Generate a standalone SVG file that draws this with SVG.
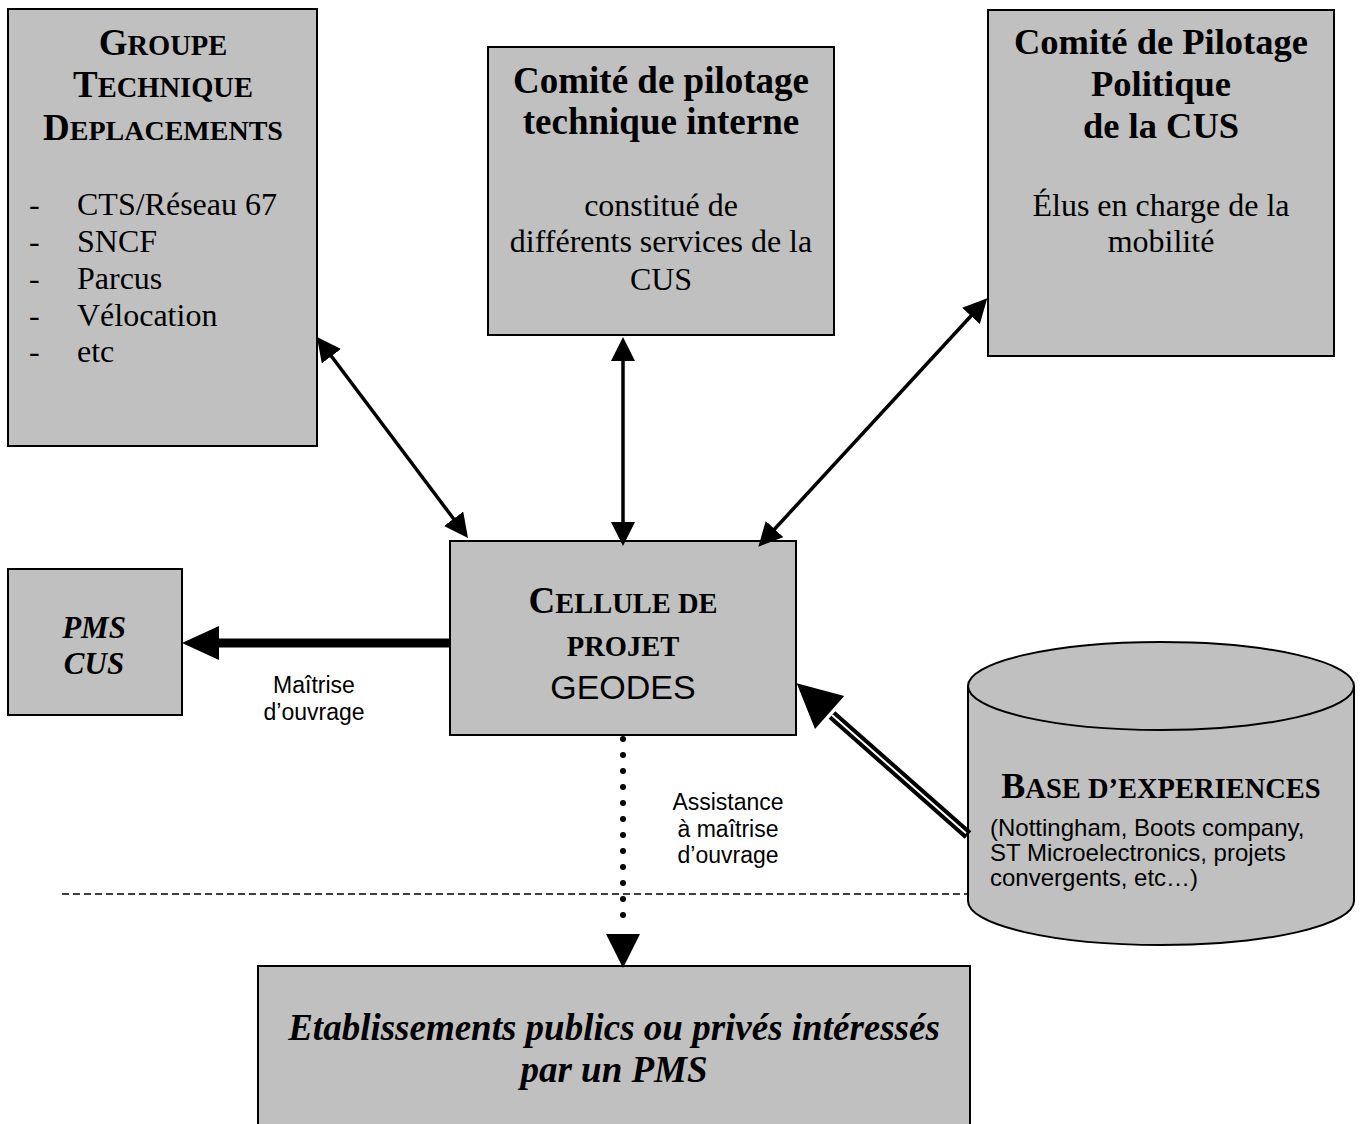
<svg xmlns="http://www.w3.org/2000/svg" width="1361" height="1124" viewBox="0 0 1361 1124">
<style>
.box{fill:#c0c0c0;stroke:#000;stroke-width:2}
.t{font-family:"Liberation Serif","Times New Roman",serif;fill:#000}
.b{font-weight:bold}
.i{font-style:italic}
.s{font-family:"Liberation Sans",Arial,sans-serif;fill:#000}
.c{text-anchor:middle}
.ln{stroke:#000;stroke-width:3.5;fill:none}
</style>
<defs>
<marker id="ah" viewBox="0 0 24 24" markerWidth="24" markerHeight="24" markerUnits="userSpaceOnUse" refX="4" refY="12" orient="auto-start-reverse"><path d="M0,0 L24,12 L0,24 z" fill="#000"/></marker>
</defs>
<rect width="1361" height="1124" fill="#fff"/>

<line x1="62" y1="894" x2="970" y2="894" stroke="#000" stroke-width="1.6" stroke-dasharray="7 4"/>

<g id="groupe-technique">
<rect class="box" x="8" y="9" width="309" height="437"/>
<text class="t b c" x="163" y="55"><tspan font-size="37">G</tspan><tspan font-size="28.5">ROUPE</tspan></text>
<text class="t b c" x="163" y="97"><tspan font-size="37">T</tspan><tspan font-size="28.5">ECHNIQUE</tspan></text>
<text class="t b c" x="163" y="140"><tspan font-size="37">D</tspan><tspan font-size="28">EPLACEMENTS</tspan></text>
<g class="t" font-size="32">
<text x="29" y="215">-</text><text x="77" y="215">CTS/Réseau 67</text>
<text x="29" y="252">-</text><text x="77" y="252">SNCF</text>
<text x="29" y="289">-</text><text x="77" y="289">Parcus</text>
<text x="29" y="326">-</text><text x="77" y="326">Vélocation</text>
<text x="29" y="362">-</text><text x="77" y="362">etc</text>
</g>
</g>

<g id="comite-technique">
<rect class="box" x="488" y="47" width="346" height="288"/>
<text class="t b c" x="661" y="93" font-size="37">Comité de pilotage</text>
<text class="t b c" x="661" y="134" font-size="37">technique interne</text>
<text class="t c" x="661" y="216" font-size="32">constitué de</text>
<text class="t c" x="661" y="252" font-size="32">différents services de la</text>
<text class="t c" x="661" y="290" font-size="32">CUS</text>
</g>

<g id="comite-politique">
<rect class="box" x="988" y="10" width="346" height="346"/>
<text class="t b c" x="1161" y="54" font-size="36.5">Comité de Pilotage</text>
<text class="t b c" x="1161" y="96" font-size="36.5">Politique</text>
<text class="t b c" x="1161" y="138" font-size="36.5">de la CUS</text>
<text class="t c" x="1161" y="216" font-size="32">Élus en charge de la</text>
<text class="t c" x="1161" y="252" font-size="32">mobilité</text>
</g>

<g id="cellule">
<rect class="box" x="450" y="541" width="346" height="194"/>
<text class="t b c" x="623" y="613"><tspan font-size="37">C</tspan><tspan font-size="28.5">ELLULE DE</tspan></text>
<text class="t b c" x="623" y="656" font-size="28.5">PROJET</text>
<text class="s c" x="623" y="699" font-size="34">GEODES</text>
</g>

<g id="pms-cus">
<rect class="box" x="8" y="569" width="174" height="146"/>
<text class="t b i c" x="94" y="638" font-size="31">PMS</text>
<text class="t b i c" x="94" y="674" font-size="31">CUS</text>
</g>

<g id="base-experiences">
<path class="box" d="M968,686 L968,901 A193,44 0 0 0 1354,901 L1354,686"/>
<ellipse class="box" cx="1161" cy="686" rx="193" ry="44"/>
<text class="t b c" x="1161" y="798"><tspan font-size="36">B</tspan><tspan font-size="28.5">ASE D’EXPERIENCES</tspan></text>
<g class="s" font-size="24">
<text x="990" y="836">(Nottingham, Boots company,</text>
<text x="990" y="861">ST Microelectronics, projets</text>
<text x="990" y="886">convergents, etc…)</text>
</g>
</g>

<g id="etablissements">
<rect class="box" x="258" y="966" width="712" height="170"/>
<text class="t b i c" x="614" y="1040" font-size="37">Etablissements publics ou privés intéressés</text>
<text class="t b i c" x="614" y="1082" font-size="37">par un PMS</text>
</g>

<g id="connectors">
<line class="ln" x1="329" y1="353" x2="456" y2="522" marker-start="url(#ah)" marker-end="url(#ah)"/>
<line class="ln" x1="623" y1="357" x2="623" y2="526" marker-start="url(#ah)" marker-end="url(#ah)"/>
<line class="ln" x1="973.7" y1="313" x2="771.9" y2="532" marker-start="url(#ah)" marker-end="url(#ah)"/>
<line x1="450" y1="643" x2="216" y2="643" stroke="#000" stroke-width="9"/>
<polygon points="182,643 219,626 219,660" fill="#000"/>
<line x1="968" y1="835" x2="832" y2="715" stroke="#000" stroke-width="10"/>
<line x1="966" y1="833.3" x2="832" y2="715" stroke="#fff" stroke-width="2"/>
<polygon points="796.7,683.3 844.2,696 815,729" fill="#000"/>
<line x1="623" y1="739" x2="623" y2="931" stroke="#000" stroke-width="6" stroke-linecap="round" stroke-dasharray="0 16"/>
<polygon points="623,968 606,934 640,934" fill="#000"/>
<text class="s c" x="314" y="693" font-size="23">Maîtrise</text>
<text class="s c" x="314" y="720" font-size="23">d’ouvrage</text>
<text class="s c" x="728" y="810" font-size="23">Assistance</text>
<text class="s c" x="728" y="837" font-size="23">à maîtrise</text>
<text class="s c" x="728" y="863" font-size="23">d’ouvrage</text>
</g>
</svg>
